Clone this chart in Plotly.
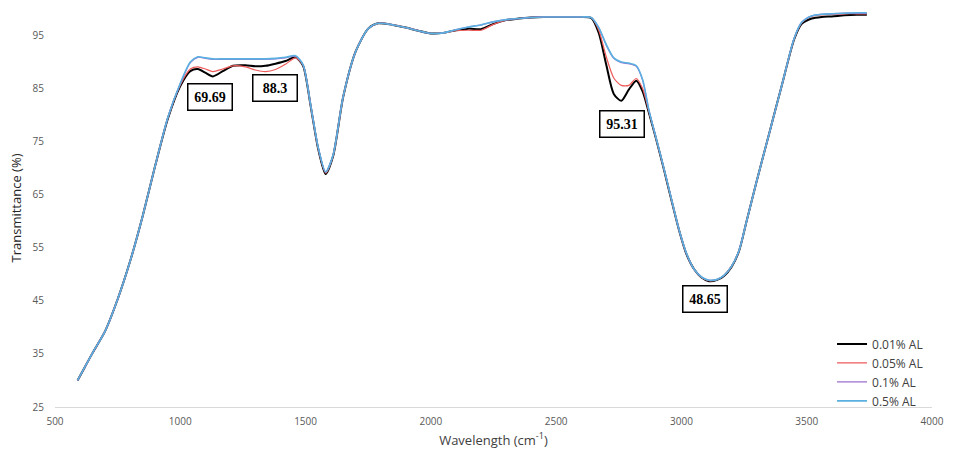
import plotly.graph_objects as go

wavenumber = [590, 620, 650, 700, 750, 800, 850, 900, 950, 1000, 1040, 1070, 1100, 1130, 1170,
              1210, 1260, 1300, 1340, 1380, 1420, 1460, 1490, 1520, 1550, 1580, 1610, 1650, 1700,
              1750, 1790, 1850, 1900, 1950, 2000, 2050, 2100, 2150, 2200, 2250, 2300, 2350, 2400,
              2450, 2500, 2550, 2600, 2640, 2670, 2700, 2730, 2760, 2790, 2820, 2845, 2870, 2900,
              2930, 2960, 2990, 3020, 3050, 3080, 3110, 3140, 3170, 3200, 3230, 3260, 3300, 3350,
              3400, 3450, 3480, 3520, 3560, 3600, 3650, 3700, 3740]

al_001 = [30.0, 32.6, 35.2, 39.3, 45.3, 52.5, 61.0, 70.5, 79.3, 85.5, 88.3, 88.7, 88.0, 87.3, 88.3,
          89.3, 89.4, 89.2, 89.3, 89.7, 90.2, 90.9, 89.3, 81.8, 73.7, 68.9, 72.3, 83.4, 92.0,
          96.3, 97.3, 97.0, 96.5, 95.9, 95.4, 95.5, 96.0, 96.3, 96.2, 97.2, 97.9, 98.2, 98.4,
          98.5, 98.5, 98.5, 98.5, 98.3, 95.5, 89.5, 84.0, 82.7, 84.8, 86.5, 84.5, 80.5, 75.3,
          69.8, 64.0, 58.4, 53.8, 51.0, 49.4, 48.7, 48.9, 49.7, 51.4, 54.4, 60.0, 67.5, 76.5,
          85.5, 94.3, 97.2, 98.2, 98.5, 98.6, 98.8, 98.9, 98.9]

al_005 = [30.0, 32.6, 35.2, 39.3, 45.3, 52.5, 61.0, 70.5, 79.4, 85.7, 88.7, 89.1, 88.7, 88.2, 88.7,
          89.3, 89.1, 88.5, 88.2, 88.6, 89.6, 90.8, 89.4, 81.9, 73.8, 69.1, 72.4, 83.4, 92.0,
          96.3, 97.3, 97.0, 96.5, 95.9, 95.4, 95.5, 95.9, 96.0, 96.0, 97.1, 97.9, 98.2, 98.4,
          98.5, 98.5, 98.5, 98.5, 98.4, 96.0, 91.0, 87.0, 85.6, 85.6, 86.9, 85.0, 80.7, 75.4,
          69.9, 64.1, 58.5, 53.9, 51.0, 49.4, 48.8, 49.0, 49.8, 51.5, 54.5, 60.0, 67.5, 76.5,
          85.5, 94.4, 97.4, 98.6, 98.9, 99.0, 99.1, 99.1, 99.1]

al_01 = [30.0, 32.6, 35.2, 39.3, 45.3, 52.5, 61.0, 70.5, 79.5, 85.9, 89.9, 90.9, 90.7, 90.5, 90.5,
         90.5, 90.5, 90.5, 90.5, 90.6, 90.8, 91.1, 89.5, 82.0, 74.0, 69.3, 72.5, 83.5, 92.0,
         96.3, 97.3, 97.0, 96.5, 95.9, 95.4, 95.5, 96.1, 96.6, 97.0, 97.6, 98.0, 98.2, 98.4,
         98.5, 98.5, 98.5, 98.5, 98.4, 96.5, 93.2, 90.7, 89.9, 89.7, 89.2, 86.6, 81.0, 75.5,
         70.0, 64.2, 58.5, 53.9, 51.0, 49.5, 48.9, 49.0, 49.8, 51.5, 54.5, 60.0, 67.5, 76.5,
         85.5, 94.5, 97.5, 98.7, 99.0, 99.1, 99.2, 99.2, 99.2]

al_05 = [30.0, 32.6, 35.2, 39.3, 45.3, 52.5, 61.0, 70.5, 79.5, 86.0, 90.0, 91.0, 90.8, 90.6, 90.6,
         90.6, 90.6, 90.6, 90.6, 90.7, 90.9, 91.2, 89.5, 82.0, 74.0, 69.3, 72.5, 83.5, 92.0,
         96.3, 97.3, 97.0, 96.5, 95.9, 95.4, 95.5, 96.1, 96.6, 97.0, 97.6, 98.0, 98.2, 98.4,
         98.5, 98.5, 98.5, 98.5, 98.4, 96.5, 93.3, 90.8, 90.0, 89.8, 89.3, 86.7, 81.0, 75.5,
         70.0, 64.2, 58.5, 54.0, 51.0, 49.5, 48.9, 49.0, 49.8, 51.5, 54.5, 60.0, 67.5, 76.5,
         85.5, 94.5, 97.5, 98.7, 99.0, 99.1, 99.2, 99.3, 99.3]

series_names = ["0.01% AL", "0.05% AL", "0.1% AL", "0.5% AL"]
series_values = [al_001, al_005, al_01, al_05]
series_colors = ["#000000", "#ee5a5a", "#9b6fd0", "#5ab0e0"]
series_widths = [2.0, 1.2, 1.3, 1.6]

x_ticks = [500, 1000, 1500, 2000, 2500, 3000, 3500, 4000]
y_ticks = [25, 35, 45, 55, 65, 75, 85, 95]

label_texts = ["69.69", "88.3", "95.31", "48.65"]
label_x = [1119, 1378, 2762, 3095]
label_y = [83.5, 85.2, 78.3, 45.3]

fig = go.Figure()
for name, vals, col, w in zip(series_names, series_values, series_colors, series_widths):
    fig.add_trace(go.Scatter(x=wavenumber, y=vals, name=name, mode="lines",
                             line=dict(color=col, width=w, shape="spline", smoothing=0.7)))

for t, ax, ay in zip(label_texts, label_x, label_y):
    fig.add_annotation(x=ax, y=ay, xref="x", yref="y", text="<b>" + t + "</b>", showarrow=False,
                       font=dict(family="Liberation Serif", size=14, color="#000000"),
                       width=37, height=19, align="center", valign="middle",
                       bordercolor="#000000", borderwidth=1.5, borderpad=3, bgcolor="#ffffff")

fig.update_layout(
    width=953, height=454,
    margin=dict(l=55, r=16, t=9, b=45),
    paper_bgcolor="#ffffff", plot_bgcolor="#ffffff",
    font=dict(family="Open Sans", color="#595959"),
    showlegend=True,
    legend=dict(x=0.886, y=0.195, xanchor="left", yanchor="top",
                font=dict(family="Open Sans", size=12, color="#404040"),
                bgcolor="rgba(0,0,0,0)", tracegroupgap=0),
)
fig.update_xaxes(range=[500, 4000], tickvals=x_ticks, showgrid=False, zeroline=False,
                 showline=True, linecolor="#d9d9d9", linewidth=1,
                 ticks="outside", ticklen=5, tickcolor="rgba(0,0,0,0)",
                 tickfont=dict(size=10, color="#595959"),
                 title=dict(text="Wavelength (cm<sup>-1</sup>)", standoff=8,
                            font=dict(size=13, color="#404040")))
fig.update_yaxes(range=[25, 100], tickvals=y_ticks, showgrid=False, zeroline=False,
                 showline=False, ticks="outside", ticklen=8, tickcolor="rgba(0,0,0,0)",
                 tickfont=dict(size=10, color="#595959"),
                 title=dict(text="Transmittance (%)", standoff=8,
                            font=dict(size=13, color="#262626")))

fig.write_html("out.html")
